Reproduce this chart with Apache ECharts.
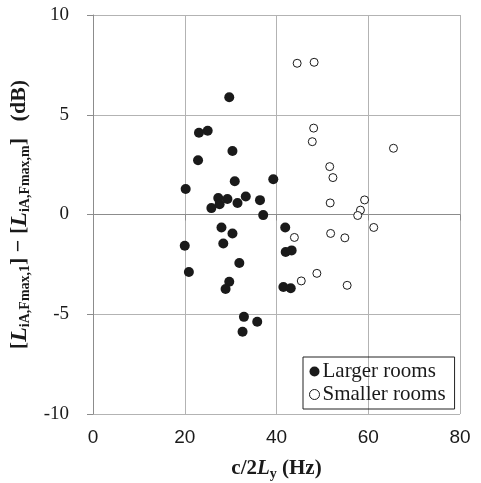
<!DOCTYPE html>
<html>
<head>
<meta charset="utf-8">
<script src="https://cdn.jsdelivr.net/npm/echarts@6/dist/echarts.min.js"></script>
<style>html,body{margin:0;padding:0;background:#fff}#c{width:481px;height:483px}</style>
</head>
<body>
<div id="c"></div>
<script>
var largerX = [29.7,23.1,25.0,30.4,22.9,30.9,39.3,20.2,27.3,29.3,33.3,36.4,27.6,31.5,25.8,37.1,28.0,41.9,30.4,20.0,28.4,42.0,43.3,31.9,20.9,29.7,28.9,41.5,43.1,32.9,35.8,32.6];
var largerY = [5.88,4.1,4.2,3.18,2.72,1.67,1.77,1.28,0.83,0.78,0.9,0.72,0.52,0.58,0.32,-0.03,-0.65,-0.65,-0.95,-1.57,-1.45,-1.88,-1.8,-2.43,-2.88,-3.37,-3.73,-3.63,-3.7,-5.13,-5.38,-5.88];
var smallerX = [44.5,48.2,48.1,47.8,65.5,51.6,52.3,59.2,51.7,58.3,57.7,61.2,51.8,54.9,43.9,48.8,45.4,55.4];
var smallerY = [7.58,7.63,4.33,3.65,3.32,2.4,1.85,0.73,0.58,0.22,-0.05,-0.65,-0.95,-1.17,-1.15,-2.95,-3.33,-3.55];
var xTicks = [0,20,40,60,80];
var yTicks = [-10,-5,0,5,10];
var seriesNames = ['Larger rooms','Smaller rooms'];

function pairs(xs, ys){ return xs.map(function(x,i){ return [x, ys[i]]; }); }

var chart = echarts.init(document.getElementById('c'));
var serif = 'Liberation Serif';
var sans = 'Liberation Sans';
chart.setOption({
  animation: false,
  backgroundColor: '#fff',
  grid: {left: 93, right: 21, top: 15, bottom: 69, containLabel: false, outerBoundsMode: 'none'},
  xAxis: {
    type: 'value', min: xTicks[0], max: xTicks[xTicks.length-1], interval: 20,
    axisLine: {show: true, lineStyle: {color: '#8c8c8c', width: 1}},
    axisTick: {show: true, inside: false, length: 6, lineStyle: {color: '#8c8c8c'}},
    splitLine: {show: true, lineStyle: {color: '#b3b3b3', width: 1}},
    axisLabel: {fontFamily: sans, fontSize: 19, color: '#1a1a1a', margin: 14},
    name: '{b|c/2}{L|L}{s|y}{b| (Hz)}',
    nameLocation: 'middle', nameGap: 43,
    nameTextStyle: {
      rich: {
        b: {fontFamily: serif, fontWeight: 'bold', fontSize: 21, color: '#1a1a1a', lineHeight: 24},
        L: {fontFamily: serif, fontWeight: 'bold', fontStyle: 'italic', fontSize: 21, color: '#1a1a1a', lineHeight: 24},
        s: {fontFamily: serif, fontWeight: 'bold', fontSize: 14, color: '#1a1a1a', verticalAlign: 'bottom', lineHeight: 14}
      }
    }
  },
  yAxis: {
    type: 'value', min: yTicks[0], max: yTicks[yTicks.length-1], interval: 5,
    axisLine: {show: true, lineStyle: {color: '#8c8c8c', width: 1}},
    axisTick: {show: true, inside: false, length: 6, lineStyle: {color: '#8c8c8c'}},
    splitLine: {show: true, lineStyle: {color: '#b3b3b3', width: 1}},
    axisLabel: {fontFamily: serif, fontSize: 19, color: '#1a1a1a', margin: 24},
    name: '{b|[}{L|L}{s|iA,Fmax,1}{b|] − [}{L|L}{s|iA,Fmax,m}{b|]   (dB)}',
    nameLocation: 'middle', nameGap: 52, nameRotate: 90,
    nameTextStyle: {
      rich: {
        b: {fontFamily: serif, fontWeight: 'bold', fontSize: 22, color: '#1a1a1a', lineHeight: 26},
        L: {fontFamily: serif, fontWeight: 'bold', fontStyle: 'italic', fontSize: 24, color: '#1a1a1a', lineHeight: 26},
        s: {fontFamily: serif, fontWeight: 'bold', fontSize: 14, color: '#1a1a1a', verticalAlign: 'bottom', lineHeight: 13}
      }
    }
  },
  legend: {
    left: 303, top: 357, orient: 'vertical',
    borderColor: '#222', borderWidth: 1, padding: [4, 9, 4, 6], itemGap: 2,
    itemWidth: 10, itemHeight: 10,
    textStyle: {fontFamily: serif, fontSize: 21, color: '#1a1a1a', padding: [0,0,0,-2]},
    data: [
      {name: seriesNames[0], icon: 'circle', itemStyle: {color: '#1a1a1a', borderWidth: 0}},
      {name: seriesNames[1], icon: 'circle', itemStyle: {color: '#fff', borderColor: '#1a1a1a', borderWidth: 1}}
    ]
  },
  series: [
    {
      name: seriesNames[0], type: 'scatter', symbol: 'circle', symbolSize: 10,
      itemStyle: {color: '#1a1a1a', opacity: 1},
      data: pairs(largerX, largerY)
    },
    {
      name: seriesNames[1], type: 'scatter', symbol: 'circle', symbolSize: 8,
      itemStyle: {color: '#fff', borderColor: '#1a1a1a', borderWidth: 1, opacity: 1},
      data: pairs(smallerX, smallerY)
    }
  ]
});
</script>
</body>
</html>
